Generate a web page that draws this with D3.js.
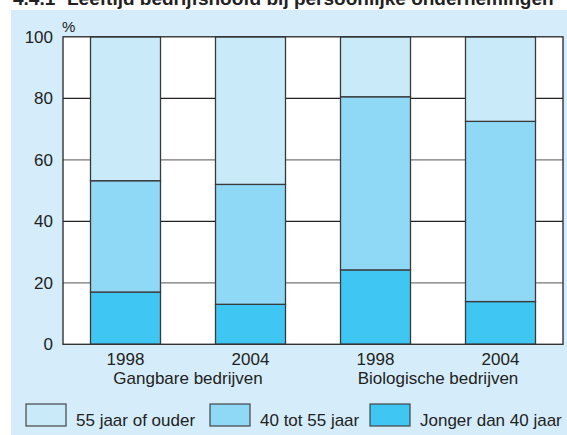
<!DOCTYPE html>
<html>
<head>
<meta charset="utf-8">
<script src="https://cdn.jsdelivr.net/npm/d3@7"></script>
<style>
  html, body { margin: 0; padding: 0; background: #fff; }
  svg { display: block; font-family: "Liberation Sans", Arial, sans-serif; }
</style>
</head>
<body>
<svg id="chart"></svg>
<script>
// data
const years = ["1998", "2004", "1998", "2004"];
const groups = ["Gangbare bedrijven", "Biologische bedrijven"];
const seriesNames = ["Jonger dan 40 jaar", "40 tot 55 jaar", "55 jaar of ouder"];
const jonger40 = [17, 13, 24.2, 13.9];
const tussen40en55 = [36.2, 39, 56.3, 58.6];
const ouder55 = [46.8, 48, 19.5, 27.5];
const yTicks = [0, 20, 40, 60, 80, 100];

const W = 567, H = 435;
const margin = { left: 63, right: 4, top: 36.8, bottom: 90.7 };
const colors = { "55 jaar of ouder": "#c8eaf9", "40 tot 55 jaar": "#8fd8f6", "Jonger dan 40 jaar": "#40c6f2" };

const svg = d3.select("#chart").attr("width", W).attr("height", H);

// panel background
svg.append("rect")
  .attr("x", 11).attr("y", 10).attr("width", W - 11).attr("height", H - 10)
  .attr("fill", "#d5edfa");

// title (its top is cut off in the original too)
svg.append("text").attr("x", 13).attr("y", 4.5)
  .attr("font-size", 19).attr("font-weight", "bold").attr("fill", "#222")
  .text("4.4.1");
svg.append("text").attr("x", 67).attr("y", 4.5)
  .attr("font-size", 19).attr("font-weight", "bold").attr("fill", "#222")
  .text("Leeftijd bedrijfshoofd bij persoonlijke ondernemingen");

const x = d3.scaleBand()
  .domain(d3.range(years.length))
  .range([margin.left, W - margin.right])
  .paddingInner(0.44).paddingOuter(0.22);

const y = d3.scaleLinear().domain([0, 100]).range([H - margin.bottom, margin.top]);

// plot background
svg.append("rect")
  .attr("x", margin.left).attr("y", y(100))
  .attr("width", W - margin.right - margin.left).attr("height", y(0) - y(100))
  .attr("fill", "#fff");

// gridlines
svg.append("g").selectAll("line")
  .data(yTicks.filter(d => d > 0 && d < 100))
  .join("line")
  .attr("x1", margin.left).attr("x2", W - margin.right)
  .attr("y1", d => y(d)).attr("y2", d => y(d))
  .attr("stroke", d => (d % 40 === 0 ? "#222" : "#777"))
  .attr("stroke-width", 1.3);

// stacked bars
const rows = years.map((yr, i) => ({
  i,
  "Jonger dan 40 jaar": jonger40[i],
  "40 tot 55 jaar": tussen40en55[i],
  "55 jaar of ouder": ouder55[i]
}));
const stack = d3.stack().keys(seriesNames)(rows);

svg.append("g").selectAll("g")
  .data(stack)
  .join("g")
  .attr("fill", d => colors[d.key])
  .selectAll("rect")
  .data(d => d)
  .join("rect")
  .attr("x", d => x(d.data.i))
  .attr("width", x.bandwidth())
  .attr("y", d => y(Math.min(d[1], 100)))
  .attr("height", d => y(d[0]) - y(Math.min(d[1], 100)))
  .attr("stroke", "#3a3a3a")
  .attr("stroke-width", 1.3);

// plot frame
svg.append("rect")
  .attr("x", margin.left).attr("y", y(100))
  .attr("width", W - margin.right - margin.left).attr("height", y(0) - y(100))
  .attr("fill", "none").attr("stroke", "#333").attr("stroke-width", 1.4);

// y axis labels
const yAxis = svg.append("g")
  .attr("transform", `translate(${margin.left},0)`)
  .call(d3.axisLeft(y).tickValues(yTicks).tickSize(0).tickPadding(10));
yAxis.select(".domain").remove();
yAxis.selectAll("text").attr("font-size", 17).attr("fill", "#222")
  .attr("font-family", "Liberation Sans, Arial, sans-serif");

svg.append("text").attr("x", 62).attr("y", 32)
  .attr("font-size", 15).attr("fill", "#222").text("%");

// x axis labels
const xAxis = svg.append("g")
  .attr("transform", `translate(0,${y(0)})`)
  .call(d3.axisBottom(x).tickFormat(i => years[i]).tickSize(0).tickPadding(9));
xAxis.select(".domain").remove();
xAxis.selectAll("text").attr("font-size", 17).attr("fill", "#222")
  .attr("font-family", "Liberation Sans, Arial, sans-serif");

svg.append("g").selectAll("text")
  .data(groups)
  .join("text")
  .attr("x", (d, k) => (x(2 * k) + x(2 * k + 1) + x.bandwidth()) / 2)
  .attr("y", 384)
  .attr("text-anchor", "middle")
  .attr("font-size", 17).attr("fill", "#222")
  .text(d => d);

// legend
const legendItems = ["55 jaar of ouder", "40 tot 55 jaar", "Jonger dan 40 jaar"];
const legendX = [26, 210, 370];
const legend = svg.append("g").selectAll("g")
  .data(legendItems)
  .join("g")
  .attr("transform", (d, k) => `translate(${legendX[k]},404)`);
legend.append("rect")
  .attr("width", 40).attr("height", 22)
  .attr("fill", d => colors[d])
  .attr("stroke", "#444").attr("stroke-width", 1.2);
legend.append("text")
  .attr("x", 50).attr("y", 21.5)
  .attr("font-size", 17).attr("fill", "#222")
  .text(d => d);
</script>
</body>
</html>
